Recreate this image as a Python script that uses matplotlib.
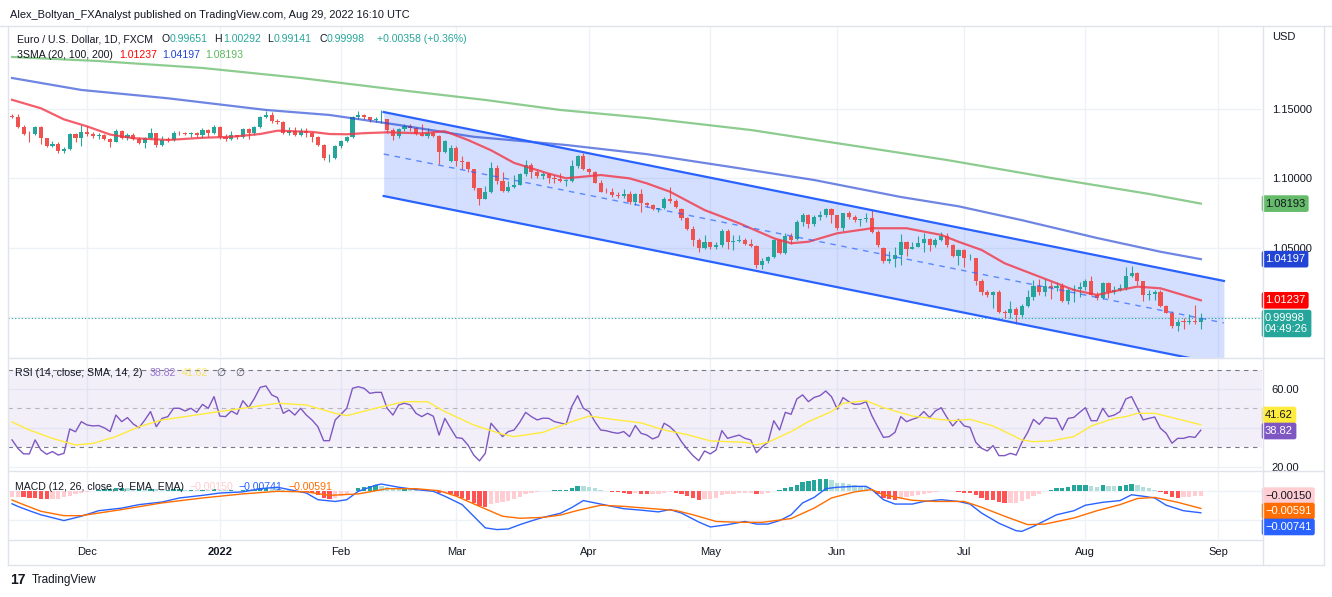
import numpy as np
import pandas as pd
import matplotlib
matplotlib.use("Agg")
import matplotlib.pyplot as plt
from matplotlib.lines import Line2D

plt.rcParams['font.family'] = ['Liberation Sans', 'DejaVu Sans']

# ---- EUR/USD daily candles, 12 Nov 2021 .. 29 Aug 2022 (one list per month) ----
open_nov = [1.1446, 1.1445, 1.1368, 1.1320, 1.1319, 1.1370, 1.1289, 1.1236, 1.1250, 1.1197, 1.1210, 1.1318, 1.1290]
open_dec = [1.1338, 1.1320, 1.1305, 1.1315, 1.1283, 1.1266, 1.1341, 1.1290, 1.1316, 1.1283, 1.1258, 1.1290,
            1.1330, 1.1238, 1.1280, 1.1279, 1.1330, 1.1327, 1.1320, 1.1327, 1.1310, 1.1350, 1.1327]
open_jan = [1.1370, 1.1300, 1.1287, 1.1313, 1.1295, 1.1359, 1.1325, 1.1367, 1.1443, 1.1455, 1.1412, 1.1405,
            1.1325, 1.1345, 1.1310, 1.1345, 1.1325, 1.1300, 1.1240, 1.1144, 1.1150]
open_feb = [1.1235, 1.1270, 1.1300, 1.1440, 1.1455, 1.1440, 1.1418, 1.1425, 1.1428, 1.1350, 1.1305, 1.1357,
            1.1375, 1.1362, 1.1322, 1.1307, 1.1330, 1.1307, 1.1190, 1.1125]
open_mar = [1.1220, 1.1125, 1.1118, 1.1065, 1.0930, 1.0855, 1.0900, 1.1075, 1.0985, 1.0912, 1.0942, 1.0955,
            1.1035, 1.1095, 1.1050, 1.1015, 1.1030, 1.1005, 1.0995, 1.0985, 1.0985, 1.1090, 1.1160]
open_apr = [1.1065, 1.1045, 1.0970, 1.0905, 1.0900, 1.0880, 1.0875, 1.0885, 1.0830, 1.0890, 1.0825, 1.0810,
            1.0780, 1.0785, 1.0855, 1.0835, 1.0780, 1.0715, 1.0640, 1.0560, 1.0500]
open_may = [1.0545, 1.0505, 1.0525, 1.0620, 1.0540, 1.0550, 1.0560, 1.0530, 1.0515, 1.0380, 1.0410, 1.0435,
            1.0555, 1.0465, 1.0585, 1.0565, 1.0690, 1.0735, 1.0675, 1.0725, 1.0735, 1.0780]
open_jun = [1.0735, 1.0645, 1.0750, 1.0720, 1.0700, 1.0705, 1.0715, 1.0615, 1.0500, 1.0410, 1.0420, 1.0450,
            1.0545, 1.0495, 1.0510, 1.0535, 1.0565, 1.0520, 1.0555, 1.0585, 1.0520, 1.0440]
open_jul = [1.0485, 1.0425, 1.0425, 1.0265, 1.0180, 1.0160, 1.0185, 1.0040, 1.0035, 1.0060, 1.0020, 1.0080,
            1.0145, 1.0225, 1.0180, 1.0230, 1.0210, 1.0225, 1.0120, 1.0200, 1.0205]
open_aug = [1.0220, 1.0260, 1.0165, 1.0140, 1.0245, 1.0180, 1.0195, 1.0210, 1.0300, 1.0320, 1.0260, 1.0160,
            1.0170, 1.0180, 1.0085, 1.0035, 0.9940, 0.9975, 0.9968, 0.9975, 0.99651]

high_nov = [1.1465, 1.1465, 1.1385, 1.1340, 1.1375, 1.1375, 1.1290, 1.1270, 1.1260, 1.1225, 1.1325, 1.1325, 1.1385]
high_dec = [1.1380, 1.1335, 1.1330, 1.1320, 1.1290, 1.1355, 1.1350, 1.1330, 1.1325, 1.1300, 1.1300, 1.1360,
            1.1330, 1.1305, 1.1300, 1.1345, 1.1345, 1.1335, 1.1335, 1.1335, 1.1365, 1.1355, 1.1385]
high_jan = [1.1375, 1.1320, 1.1345, 1.1315, 1.1365, 1.1365, 1.1375, 1.1450, 1.1483, 1.1475, 1.1430, 1.1410,
            1.1370, 1.1370, 1.1365, 1.1360, 1.1335, 1.1305, 1.1245, 1.1175, 1.1240]
high_feb = [1.1275, 1.1305, 1.1450, 1.1485, 1.1465, 1.1445, 1.1445, 1.1495, 1.1430, 1.1360, 1.1365, 1.1395,
            1.1395, 1.1370, 1.1395, 1.1365, 1.1345, 1.1310, 1.1275, 1.1240]
high_mar = [1.1235, 1.1160, 1.1125, 1.1070, 1.0935, 1.0945, 1.1120, 1.1095, 1.1045, 1.0985, 1.1025, 1.1040,
            1.1135, 1.1110, 1.1070, 1.1045, 1.1040, 1.1025, 1.1040, 1.0995, 1.1135, 1.1170, 1.1185]
high_apr = [1.1075, 1.1055, 1.0990, 1.0935, 1.0935, 1.0905, 1.0925, 1.0910, 1.0895, 1.0925, 1.0830, 1.0815,
            1.0790, 1.0865, 1.0936, 1.0850, 1.0785, 1.0725, 1.0655, 1.0570, 1.0595]
high_may = [1.0545, 1.0545, 1.0640, 1.0640, 1.0595, 1.0590, 1.0575, 1.0565, 1.0525, 1.0425, 1.0445, 1.0565,
            1.0565, 1.0605, 1.0605, 1.0700, 1.0750, 1.0745, 1.0735, 1.0765, 1.0785, 1.0785]
high_jun = [1.0740, 1.0755, 1.0765, 1.0735, 1.0710, 1.0750, 1.0774, 1.0630, 1.0510, 1.0475, 1.0505, 1.0600,
            1.0550, 1.0545, 1.0585, 1.0605, 1.0575, 1.0570, 1.0615, 1.0605, 1.0530, 1.0490]
high_jul = [1.0490, 1.0460, 1.0430, 1.0275, 1.0200, 1.0190, 1.0200, 1.0055, 1.0120, 1.0075, 1.0095, 1.0200,
            1.0270, 1.0275, 1.0278, 1.0255, 1.0255, 1.0250, 1.0215, 1.0235, 1.0255]
high_aug = [1.0275, 1.0295, 1.0180, 1.0255, 1.0255, 1.0230, 1.0240, 1.0365, 1.0368, 1.0330, 1.0265, 1.0200,
            1.0200, 1.0200, 1.0090, 1.0045, 0.9990, 0.9995, 1.0025, 1.0090, 1.00292]

low_nov = [1.1432, 1.1360, 1.1310, 1.1265, 1.1310, 1.1250, 1.1225, 1.1225, 1.1186, 1.1185, 1.1205, 1.1265, 1.1235]
low_dec = [1.1305, 1.1290, 1.1285, 1.1275, 1.1228, 1.1260, 1.1285, 1.1275, 1.1275, 1.1250, 1.1220, 1.1285,
           1.1230, 1.1235, 1.1265, 1.1270, 1.1310, 1.1310, 1.1300, 1.1300, 1.1290, 1.1300, 1.1320]
low_jan = [1.1285, 1.1272, 1.1280, 1.1285, 1.1290, 1.1285, 1.1315, 1.1360, 1.1435, 1.1400, 1.1390, 1.1320,
           1.1315, 1.1305, 1.1305, 1.1300, 1.1265, 1.1235, 1.1135, 1.1121, 1.1140]
low_feb = [1.1220, 1.1260, 1.1290, 1.1430, 1.1425, 1.1405, 1.1405, 1.1400, 1.1330, 1.1280, 1.1290, 1.1345,
           1.1345, 1.1315, 1.1305, 1.1290, 1.1300, 1.1106, 1.1185, 1.1120]
low_mar = [1.1090, 1.1065, 1.1045, 1.0915, 1.0806, 1.0850, 1.0895, 1.0960, 1.0905, 1.0905, 1.0930, 1.0950,
           1.1020, 1.1005, 1.1000, 1.0995, 1.0965, 1.0965, 1.0975, 1.0945, 1.0975, 1.1075, 1.1060]
low_apr = [1.1030, 1.0965, 1.0900, 1.0895, 1.0870, 1.0860, 1.0860, 1.0820, 1.0810, 1.0757, 1.0795, 1.0770,
           1.0760, 1.0780, 1.0825, 1.0790, 1.0700, 1.0630, 1.0515, 1.0470, 1.0490]
low_may = [1.0490, 1.0490, 1.0505, 1.0495, 1.0485, 1.0540, 1.0525, 1.0505, 1.0355, 1.0350, 1.0390, 1.0430,
           1.0460, 1.0460, 1.0530, 1.0555, 1.0660, 1.0645, 1.0660, 1.0700, 1.0725, 1.0680]
low_jun = [1.0630, 1.0625, 1.0705, 1.0690, 1.0655, 1.0690, 1.0610, 1.0510, 1.0395, 1.0395, 1.0360, 1.0380,
           1.0445, 1.0490, 1.0505, 1.0470, 1.0475, 1.0510, 1.0550, 1.0505, 1.0435, 1.0380]
low_jul = [1.0365, 1.0415, 1.0235, 1.0160, 1.0145, 1.0070, 1.0035, 0.9998, 0.9995, 0.9952, 1.0005, 1.0075,
           1.0125, 1.0160, 1.0155, 1.0130, 1.0190, 1.0110, 1.0100, 1.0115, 1.0145]
low_aug = [1.0200, 1.0160, 1.0125, 1.0130, 1.0140, 1.0170, 1.0190, 1.0200, 1.0290, 1.0235, 1.0120, 1.0125,
           1.0125, 1.0075, 1.0030, 0.9925, 0.9900, 0.9915, 0.9955, 0.9950, 0.99141]

close_nov = [1.1445, 1.1368, 1.1320, 1.1319, 1.1370, 1.1289, 1.1236, 1.1250, 1.1197, 1.1210, 1.1318, 1.1290, 1.1338]
close_dec = [1.1320, 1.1305, 1.1315, 1.1283, 1.1266, 1.1341, 1.1290, 1.1316, 1.1283, 1.1258, 1.1290, 1.1330,
             1.1238, 1.1280, 1.1279, 1.1330, 1.1327, 1.1320, 1.1327, 1.1310, 1.1350, 1.1327, 1.1370]
close_jan = [1.1300, 1.1287, 1.1313, 1.1295, 1.1359, 1.1325, 1.1367, 1.1443, 1.1455, 1.1412, 1.1405, 1.1325,
             1.1345, 1.1310, 1.1345, 1.1325, 1.1300, 1.1240, 1.1144, 1.1150, 1.1235]
close_feb = [1.1270, 1.1300, 1.1440, 1.1455, 1.1440, 1.1418, 1.1425, 1.1428, 1.1350, 1.1305, 1.1357, 1.1375,
             1.1362, 1.1322, 1.1307, 1.1330, 1.1307, 1.1190, 1.1270, 1.1220]
close_mar = [1.1125, 1.1118, 1.1065, 1.0930, 1.0855, 1.0900, 1.1075, 1.0985, 1.0912, 1.0942, 1.0955, 1.1035,
             1.1095, 1.1050, 1.1015, 1.1030, 1.1005, 1.0995, 1.0985, 1.0985, 1.1090, 1.1160, 1.1065]
close_apr = [1.1045, 1.0970, 1.0905, 1.0900, 1.0880, 1.0875, 1.0885, 1.0830, 1.0890, 1.0825, 1.0810, 1.0780,
             1.0785, 1.0855, 1.0835, 1.0795, 1.0715, 1.0640, 1.0560, 1.0500, 1.0545]
close_may = [1.0505, 1.0525, 1.0620, 1.0540, 1.0550, 1.0560, 1.0530, 1.0515, 1.0380, 1.0410, 1.0435, 1.0555,
             1.0465, 1.0585, 1.0560, 1.0690, 1.0735, 1.0675, 1.0725, 1.0735, 1.0780, 1.0735]
close_jun = [1.0645, 1.0750, 1.0720, 1.0700, 1.0705, 1.0715, 1.0615, 1.0520, 1.0410, 1.0420, 1.0450, 1.0545,
             1.0495, 1.0510, 1.0535, 1.0565, 1.0520, 1.0555, 1.0585, 1.0520, 1.0440, 1.0485]
close_jul = [1.0425, 1.0425, 1.0265, 1.0180, 1.0160, 1.0185, 1.0040, 1.0035, 1.0060, 1.0020, 1.0080, 1.0145,
             1.0225, 1.0180, 1.0230, 1.0210, 1.0225, 1.0120, 1.0200, 1.0205, 1.0220]
close_aug = [1.0260, 1.0165, 1.0140, 1.0245, 1.0180, 1.0195, 1.0210, 1.0300, 1.0320, 1.0260, 1.0160, 1.0170,
             1.0180, 1.0085, 1.0035, 0.9940, 0.9970, 0.9968, 0.9975, 0.9964, 0.99998]

# ---- 3 SMA (20 / 100 / 200), sampled along the drawn lines: bar index -> value ----
sma20_t = [0, 5, 9, 13, 17, 21, 27, 33, 38, 43, 46, 52, 55, 58, 61, 65, 71, 75, 79, 83, 87, 93, 96, 99,
           102, 107, 110, 114, 120, 126, 132, 135, 138, 143, 149, 155, 161, 164, 168, 172, 178, 184, 188,
           192, 195, 199, 206]
sma20 = [1.1566, 1.1505, 1.1425, 1.1375, 1.1316, 1.1290, 1.1277, 1.1293, 1.1300, 1.1320, 1.1344, 1.1335,
         1.1320, 1.1318, 1.1326, 1.1332, 1.1325, 1.1340, 1.1277, 1.1203, 1.1112, 1.1035, 1.1002, 1.1013,
         1.1025, 1.1001, 1.0965, 1.0905, 1.0773, 1.0678, 1.0570, 1.0534, 1.0545, 1.0606, 1.0642, 1.0642,
         1.0594, 1.0545, 1.0486, 1.0390, 1.0294, 1.0198, 1.0162, 1.0198, 1.0222, 1.0210, 1.01237]
sma100_t = [0, 12, 27, 44, 55, 67, 80, 96, 110, 125, 139, 154, 164, 175, 188, 199, 206]
sma100 = [1.1723, 1.1637, 1.1577, 1.1493, 1.1457, 1.1385, 1.1300, 1.1241, 1.1175, 1.1080, 1.0989, 1.0867,
          1.0800, 1.0700, 1.0572, 1.0473, 1.04197]
sma200_t = [0, 15, 33, 50, 67, 82, 95, 110, 128, 145, 162, 180, 197, 206]
sma200 = [1.1874, 1.1845, 1.1795, 1.1723, 1.1637, 1.1565, 1.1493, 1.1435, 1.1349, 1.1241, 1.1133, 1.1004,
          1.0889, 1.08193]

# ---- parallel channel drawing: anchor bars and prices ----
channel_t = [64.4, 210.0]
channel_top = [1.1478, 1.0263]
channel_bottom = [1.0874, 0.9659]

# ---- RSI (14) per bar, by month ----
rsi_nov = [33.8, 29.5, 26.6, 26.6, 33.8, 28.6, 26.4, 27.8, 26.0, 26.9, 39.4, 38.0, 43.2]
rsi_dec = [41.5, 41.0, 41.2, 40.0, 38.1, 46.6, 43.2, 45.3, 42.0, 40.1, 44.0, 48.4, 40.6, 44.9, 45.8, 50.1,
           50.1, 48.7, 50.1, 48.0, 52.1, 50.1, 56.1]
rsi_jan = [46.1, 45.8, 48.7, 47.0, 54.0, 50.4, 55.2, 60.9, 61.6, 57.0, 55.6, 47.5, 49.2, 46.6, 50.1, 46.6,
           44.0, 40.6, 33.4, 33.4, 44.1]
rsi_feb = [47.0, 50.1, 60.4, 61.2, 60.4, 57.8, 58.3, 58.3, 50.1, 46.6, 51.8, 52.7, 51.8, 47.5, 45.8, 47.5,
           46.0, 36.3, 44.9, 39.8]
rsi_mar = [35.0, 34.6, 31.2, 26.0, 23.0, 26.9, 42.4, 38.9, 35.5, 38.1, 38.9, 43.0, 48.0, 45.8, 44.1, 45.0,
           44.9, 43.2, 42.5, 41.8, 51.0, 56.6, 50.1]
rsi_apr = [48.4, 43.2, 38.9, 38.5, 37.7, 37.2, 38.1, 35.5, 41.2, 37.2, 36.3, 34.3, 35.5, 42.4, 40.6, 37.7,
           32.9, 29.1, 25.7, 23.1, 28.1]
rsi_may = [26.6, 28.6, 38.6, 34.6, 35.5, 36.3, 34.6, 33.8, 27.2, 30.3, 32.6, 43.7, 38.9, 48.0, 47.0, 54.9,
           57.0, 53.5, 55.7, 56.6, 59.0, 56.1]
rsi_jun = [49.7, 55.6, 53.5, 52.1, 52.3, 53.5, 46.3, 40.6, 35.1, 35.5, 37.7, 45.8, 43.2, 44.4, 45.4, 48.4,
           45.3, 48.7, 50.4, 45.4, 41.0, 44.4]
rsi_jul = [41.0, 40.3, 32.6, 29.5, 28.1, 30.9, 25.7, 25.7, 26.9, 26.0, 32.6, 37.7, 44.4, 41.8, 45.4, 44.9,
           44.9, 38.9, 44.9, 45.4, 48.0]
rsi_aug = [50.4, 43.7, 43.7, 50.1, 45.8, 46.6, 48.4, 54.9, 56.1, 50.1, 44.1, 44.9, 45.6, 39.8, 37.2, 32.1,
           34.6, 34.6, 35.5, 35.1, 38.82]

rsi_ma_t = [0, 3, 7, 11, 14, 18, 22, 26, 30, 35, 40, 46, 51, 56, 58, 63, 68, 72, 75, 80, 85, 87, 92, 97,
            100, 104, 109, 113, 117, 121, 124, 127, 129, 131, 135, 138, 142, 144, 148, 151, 156, 160, 163,
            166, 170, 175, 177, 180, 184, 187, 191, 193, 195, 198, 202, 206]
rsi_ma = [43.0, 38.9, 34.6, 31.2, 32.0, 35.5, 40.6, 44.1, 45.8, 48.0, 50.1, 52.7, 51.8, 47.5, 46.3, 50.1,
          53.5, 53.5, 48.4, 41.5, 36.7, 35.5, 37.7, 43.2, 46.1, 44.4, 42.6, 38.9, 36.5, 33.3, 32.9, 32.6,
          31.2, 32.6, 38.1, 43.2, 48.4, 52.7, 54.0, 50.4, 46.1, 44.6, 43.7, 44.4, 41.0, 33.8, 32.9, 33.3,
          35.5, 41.0, 44.9, 45.8, 47.5, 47.5, 44.6, 41.62]

# ---- MACD (12, 26, 9), values in 1e-3 ----
hist_nov = [-1.9, -1.8, -2.1, -2.3, -2.4, -2.5, -2.6, -2.6, -2.5, -2.0, -1.5, -1.0, -0.6]
hist_dec = [-0.3, 0.1, 0.4, 0.7, 0.9, 1.1, 1.1, 1.0, 0.9, 0.9, 0.8, 0.9, 0.7, 0.6, 0.6, 0.7, 0.7, 0.6, 0.6,
            0.5, 0.6, 0.5, 0.7]
hist_jan = [0.5, 0.3, 0.3, 0.2, 0.4, 0.4, 0.6, 1.0, 1.3, 1.2, 1.0, 0.6, 0.4, 0.1, 0.0, -0.2, -0.5, -1.2,
            -2.2, -2.6, -2.3]
hist_feb = [-1.6, -1.0, 0.2, 1.0, 1.6, 1.9, 2.0, 1.9, 1.5, 1.1, 1.0, 1.0, 0.9, 0.7, 0.5, 0.4, 0.2, -0.6,
            -0.5, -0.9]
hist_mar = [-1.6, -2.3, -3.0, -4.0, -5.0, -5.5, -4.3, -3.9, -3.7, -3.3, -2.8, -2.0, -1.0, -0.6, -0.3, 0.0,
            0.2, 0.3, 0.3, 0.3, 1.0, 1.9, 1.8]
hist_apr = [1.6, 1.1, 0.5, 0.1, -0.2, -0.4, -0.6, -0.9, -0.7, -0.9, -1.0, -1.0, -0.9, -0.5, -0.4, -0.5,
            -1.0, -1.7, -2.4, -3.0, -2.7]
hist_may = [-2.5, -2.2, -1.4, -1.1, -0.9, -0.7, -0.6, -0.6, -0.9, -0.8, -0.6, 0.1, 0.3, 1.0, 1.5, 2.3, 3.2,
            3.5, 3.8, 4.1, 4.3, 4.0]
hist_jun = [3.0, 2.9, 2.6, 2.2, 1.7, 1.4, 0.3, -1.0, -2.3, -2.8, -2.9, -2.3, -1.9, -1.6, -1.3, -0.9, -0.7,
            -0.4, 0.0, 0.2, 0.1, -0.2]
hist_jul = [-0.5, -0.6, -1.3, -2.2, -2.9, -3.1, -3.8, -4.1, -4.0, -4.0, -3.3, -2.6, -1.6, -0.8, 0.0, 0.6,
            1.0, 1.0, 1.6, 2.0, 2.0]
hist_aug = [2.2, 1.9, 1.6, 2.0, 1.8, 1.7, 1.8, 2.2, 2.6, 2.1, 1.4, 1.1, 0.6, -0.3, -0.9, -1.8, -2.2, -2.1,
            -1.9, -1.7, -1.5]

macd_t = [0, 1, 3, 5, 9, 12, 15, 19, 22, 26, 29, 33, 36, 40, 43, 46, 48, 51, 53, 56, 58, 60, 63, 64, 67,
          70, 73, 75, 78, 80, 82, 84, 86, 88, 90, 92, 95, 97, 99, 102, 106, 109, 112, 114, 116, 119, 121,
          124, 127, 129, 131, 133, 135, 137, 139, 141, 143, 146, 148, 149, 151, 153, 156, 158, 161, 164,
          166, 168, 171, 174, 175, 177, 181, 184, 186, 189, 192, 194, 196, 198, 200, 203, 206]
macd = [-4.3, -5.2, -6.7, -8.1, -10.1, -8.6, -6.7, -5.8, -4.6, -3.7, -2.3, -1.4, -0.6, -0.2, 0.9, 1.4, 0.6,
        -0.6, -2.9, -3.5, -2.9, 0.0, 2.1, 2.5, 1.4, 0.6, 0.0, -1.7, -4.6, -8.6, -12.6, -13.2, -13.0, -11.5,
        -10.2, -9.0, -7.6, -5.6, -3.2, -4.4, -6.0, -6.5, -7.1, -6.3, -7.5, -10.6, -12.3, -11.5, -10.4,
        -11.3, -11.3, -10.1, -8.1, -4.0, -2.1, 0.9, 1.4, 1.7, 1.7, 0.6, -2.9, -4.4, -4.4, -3.5, -2.9, -3.5,
        -4.4, -7.5, -11.0, -13.6, -13.8, -12.1, -8.1, -6.7, -4.8, -3.8, -3.2, -1.2, -1.7, -2.3, -4.8, -6.7,
        -7.41]
signal_t = [0, 2, 5, 9, 12, 15, 19, 26, 33, 40, 46, 51, 55, 58, 60, 65, 70, 74, 77, 81, 85, 88, 92, 95, 98,
            102, 106, 111, 115, 118, 122, 126, 130, 135, 139, 142, 146, 149, 151, 156, 160, 165, 168, 172,
            176, 179, 184, 188, 192, 195, 198, 202, 206]
signal = [-3.0, -4.6, -6.9, -8.4, -8.4, -7.5, -6.3, -4.0, -2.3, -0.9, 0.0, -0.2, -1.4, -1.1, -0.9, 0.9, 0.9,
          0.2, -1.7, -5.2, -8.6, -9.3, -9.0, -8.2, -6.6, -4.8, -5.2, -6.0, -6.6, -8.1, -10.4, -10.7, -10.7,
          -9.4, -5.8, -2.3, -0.2, 0.6, -1.2, -3.1, -3.5, -3.5, -5.5, -8.6, -11.5, -11.3, -9.2, -6.7, -4.6,
          -2.5, -2.1, -3.8, -5.91]

opens = np.array(open_nov + open_dec + open_jan + open_feb + open_mar + open_apr + open_may + open_jun + open_jul + open_aug)
highs = np.array(high_nov + high_dec + high_jan + high_feb + high_mar + high_apr + high_may + high_jun + high_jul + high_aug)
lows = np.array(low_nov + low_dec + low_jan + low_feb + low_mar + low_apr + low_may + low_jun + low_jul + low_aug)
closes = np.array(close_nov + close_dec + close_jan + close_feb + close_mar + close_apr + close_may + close_jun + close_jul + close_aug)
rsi = np.array(rsi_nov + rsi_dec + rsi_jan + rsi_feb + rsi_mar + rsi_apr + rsi_may + rsi_jun + rsi_jul + rsi_aug)
hist = np.array(hist_nov + hist_dec + hist_jan + hist_feb + hist_mar + hist_apr + hist_may + hist_jun + hist_jul + hist_aug) * 1e-3
macd = np.array(macd) * 1e-3
signal = np.array(signal) * 1e-3

n = len(closes)
x = np.arange(n)
dates = pd.bdate_range('2021-11-12', periods=n + 8)
month_pos = [i for i in range(1, len(dates)) if dates[i].month != dates[i - 1].month]
month_lab = ['2022' if dates[i].month == 1 else dates[i].strftime('%b') for i in month_pos]

DARK = '#131722'
TEAL = '#26a69a'
RED = '#ef5350'
SEP = '#e0e3eb'
W, H = 1332, 597

fig = plt.figure(figsize=(W / 100, H / 100), dpi=100)
fig.patch.set_facecolor('white')
renderer = fig.canvas.get_renderer()


def pane(top, bottom):
    a = fig.add_axes([8 / W, 1 - bottom / H, (1262 - 8) / W, (bottom - top) / H])
    for s in a.spines.values():
        s.set_visible(False)
    a.set_xlim(-0.7, 216.6)
    a.set_xticks(month_pos)
    a.grid(True, color='#eef1f6', lw=1)
    a.set_axisbelow(True)
    a.yaxis.tick_right()
    a.tick_params(length=0, labelsize=8, labelcolor=DARK, pad=7)
    a.tick_params(axis='x', labelbottom=False)
    return a


def tag(a, val, text, fc, tc='white', dy=0, **kw):
    a.annotate(text, xy=(1, val), xycoords=('axes fraction', 'data'), xytext=(2.2, dy),
               textcoords='offset points', ha='left', va='center', fontsize=8, color=tc,
               annotation_clip=False, zorder=10,
               bbox=dict(boxstyle='round,pad=0.3,rounding_size=0.2', fc=fc, ec='none'), **kw)


def fmt(v):
    return f'{v:.5f}'.replace('-', '\u2212')


# ---------------- price pane ----------------
ax = pane(26, 357)
ax.set_ylim(0.97158, 1.2097)
ax.set_yticks([1.00, 1.05, 1.10, 1.15])
ax.set_yticklabels(['', '1.05000', '1.10000', '1.15000'])

ax.fill_between(channel_t, channel_bottom, channel_top, color='#2962ff', alpha=0.2, lw=0, zorder=1)
ax.plot(channel_t, channel_top, color='#2962ff', lw=1.6, zorder=5)
ax.plot(channel_t, channel_bottom, color='#2962ff', lw=1.6, zorder=5)
ax.plot(channel_t, [(a + b) / 2 for a, b in zip(channel_top, channel_bottom)],
        color='#2962ff', lw=1, ls=(0, (4, 4)), alpha=0.7, zorder=5)

ax.axhline(closes[-1], color=TEAL, lw=0.8, ls=(0, (1, 2)), zorder=2)

up = closes >= opens
col = np.where(up, TEAL, RED)
ax.vlines(x, lows, highs, colors=col, lw=0.8, zorder=3)
ax.bar(x, np.maximum(np.abs(closes - opens), 0.00025), bottom=np.minimum(opens, closes),
       width=0.72, color=col, lw=0, zorder=3)

ax.plot(sma200_t, sma200, color='#66bb6a', lw=1.6, alpha=0.75, zorder=4)
ax.plot(sma100_t, sma100, color='#2144d4', lw=1.6, alpha=0.65, zorder=4)
ax.plot(sma20_t, sma20, color='#f23645', lw=1.6, alpha=0.8, zorder=4)

tag(ax, sma200[-1], fmt(sma200[-1]), '#66bb6a', DARK)
tag(ax, sma100[-1], fmt(sma100[-1]), '#2144d4')
tag(ax, sma20[-1], fmt(sma20[-1]), '#ff0000')
tag(ax, closes[-1], fmt(closes[-1]) + '\n04:49:26', TEAL, dy=-4.3, linespacing=1.1)

# ---------------- RSI pane ----------------
ar = pane(358, 470)
ar.set_ylim(18.3, 76.0)
ar.set_yticks([20, 40, 60])
ar.set_yticklabels(['20.00', '', '60.00'])
ar.axhspan(30, 70, color='#7e57c2', alpha=0.09, lw=0)
for lvl, al in [(70, 1.0), (50, 0.5), (30, 1.0)]:
    ar.axhline(lvl, color='#787b86', lw=0.8, ls=(0, (4, 4)), alpha=al)
ar.plot(x, rsi, color='#7e57c2', lw=1)
ar.plot(rsi_ma_t, rsi_ma, color='#ffeb3b', lw=1)
tag(ar, rsi_ma[-1], f'{rsi_ma[-1]:.2f}', '#ffeb3b', DARK, dy=7)
tag(ar, rsi[-1], f'{rsi[-1]:.2f}', '#7e57c2', dy=-0.6)

# ---------------- MACD pane ----------------
am = pane(471, 539)
am.set_ylim(-0.01645, 0.0070)
am.set_yticks([0, -0.01])
am.set_yticklabels(['', ''])
prev = np.r_[hist[0], hist[:-1]]
hcol = np.where(hist >= 0, np.where(hist >= prev, '#26a69a', '#b2dfdb'),
                np.where(hist < prev, '#ff5252', '#ffcdd2'))
am.bar(x, hist, width=0.75, color=hcol, lw=0)
am.plot(macd_t, macd, color='#2962ff', lw=1)
am.plot(signal_t, signal, color='#ff6d00', lw=1)
tag(am, hist[-1], fmt(hist[-1]), '#ffcdd2', DARK)
tag(am, signal[-1], fmt(signal[-1]), '#ff6d00', dy=-1.9)
tag(am, macd[-1], fmt(macd[-1]), '#2962ff', dy=-10.2)

am.set_xticklabels(month_lab)
am.tick_params(axis='x', labelbottom=True, pad=6, labelsize=8, labelcolor=DARK)
for t in am.get_xticklabels():
    if t.get_text() == '2022':
        t.set_fontweight('bold')


# ---------------- frame lines ----------------
def hline(y, x0, x1):
    fig.add_artist(Line2D([x0 / W, x1 / W], [1 - y / H, 1 - y / H], color=SEP, lw=1))


def vline(xp, y0, y1):
    fig.add_artist(Line2D([xp / W, xp / W], [1 - y0 / H, 1 - y1 / H], color=SEP, lw=1))


hline(25.5, 0, 1332)
hline(357.5, 8, 1323)
hline(470.5, 8, 1323)
hline(539.5, 8, 1262)
hline(564.5, 8, 1323)
vline(7.5, 25.5, 564.5)
vline(1262.5, 25.5, 564.5)
vline(1323.5, 25.5, 564.5)


# ---------------- texts ----------------
def ftext(xp, yp, s, **kw):
    kw.setdefault('fontsize', 8)
    kw.setdefault('color', DARK)
    return fig.text(xp / W, 1 - yp / H, s, va='center', ha='left', **kw)


def chain(xp, yp, parts, size=7.6):
    # parts: (gap before in px, text, colour, alpha) laid out one after another
    for gap, s, c, al in parts:
        xp += gap
        t = ftext(xp, yp, s, color=c, alpha=al, fontsize=size)
        xp += t.get_window_extent(renderer).width


ftext(10, 15, 'Alex_Boltyan_FXAnalyst published on TradingView.com, Aug 29, 2022 16:10 UTC', fontsize=7.9)

chg = closes[-1] - closes[-2]
chain(17, 39, [(0, 'Euro / U.S. Dollar, 1D, FXCM', DARK, 1),
               (8, 'O', DARK, 1), (0.5, f'{opens[-1]:.5f}', TEAL, 1),
               (7, 'H', DARK, 1), (0.5, f'{highs[-1]:.5f}', TEAL, 1),
               (7, 'L', DARK, 1), (0.5, f'{lows[-1]:.5f}', TEAL, 1),
               (7, 'C', DARK, 1), (0.5, f'{closes[-1]:.5f}', TEAL, 1),
               (12, f'{chg:+.5f} ({chg / closes[-2] * 100:+.2f}%)', TEAL, 1)])
chain(17, 54.5, [(0, '3SMA (20, 100, 200)', DARK, 1), (6, f'{sma20[-1]:.5f}', '#ff0000', 1),
                 (5, f'{sma100[-1]:.5f}', '#2144d4', 1), (5, f'{sma200[-1]:.5f}', '#5cb85f', 1)])
chain(15, 372.5, [(0, 'RSI (14, close, SMA, 14, 2)', DARK, 1), (7, f'{rsi[-1]:.2f}', '#7e57c2', 0.8),
                  (6, f'{rsi_ma[-1]:.2f}', '#f5d800', 0.6), (8, '\u2205', '#50535e', 1),
                  (10, '\u2205', '#50535e', 1)])
chain(15, 486.5, [(0, 'MACD (12, 26, close, 9, EMA, EMA)', DARK, 1), (5, fmt(hist[-1]), '#ffcdd2', 1),
                  (6, fmt(macd[-1]), '#2962ff', 1), (6, fmt(signal[-1]), '#ff6d00', 1)])

ftext(1272, 37, 'USD')
ftext(10, 580, '17', fontsize=10, fontweight='bold')
ftext(32, 580, 'TradingView', fontsize=8.5)

fig.savefig('out.png', dpi=100, facecolor='white')
